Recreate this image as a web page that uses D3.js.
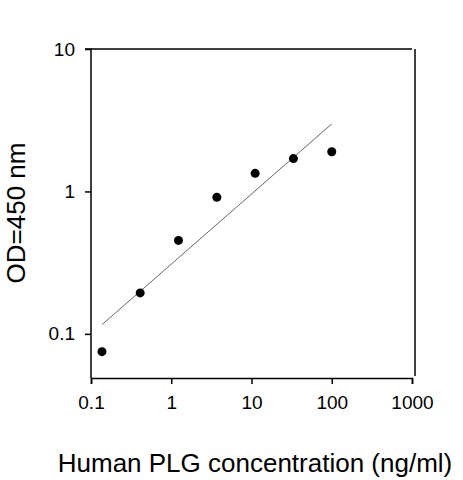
<!DOCTYPE html>
<html><head><meta charset="utf-8">
<script src="https://cdn.jsdelivr.net/npm/d3@7"></script>
<style>body{margin:0;background:#fff}text{font-family:"Liberation Sans",Arial,sans-serif}</style>
</head><body><svg id="c" width="463" height="480"></svg>
<script>
const concentrations=[0.137,0.41,1.23,3.7,11.1,33.3,100];
const odValues=[0.075,0.194,0.453,0.91,1.34,1.70,1.90];
const fitX=[0.137,100];
const fitY=[0.116,2.98];
const xTicks=[0.1,1,10,100,1000];
const yTicks=[0.1,1,10];
const svg=d3.select("#c");
const L=91,R=412,T=49,B=378;
const x=d3.scaleLog().domain([0.1,1000]).range([L,R]);
const y=d3.scaleLog().domain([0.049,10]).range([B,T]);
svg.append("g").attr("transform",`translate(0,${B})`)
 .call(d3.axisBottom(x).tickValues(xTicks).tickFormat(d=>String(d)).tickSize(6).tickPadding(12))
 .call(g=>{g.selectAll("text").attr("font-size",19).attr("fill","#000");g.selectAll("line,path").attr("stroke","#000").attr("stroke-width",1.5);});
svg.append("g").attr("transform",`translate(${L},0)`)
 .call(d3.axisLeft(y).tickValues(yTicks).tickFormat(d=>String(d)).tickSize(6).tickPadding(10))
 .call(g=>{g.selectAll("text").attr("font-size",19).attr("fill","#000");g.selectAll("line,path").attr("stroke","#000").attr("stroke-width",1.5);g.select(".domain").attr("d",`M-6,${T}H0V${B}`);});
svg.append("line").attr("x1",L).attr("x2",R).attr("y1",T).attr("y2",T).attr("stroke","#000").attr("stroke-width",1.5);
svg.append("line").attr("x1",415).attr("x2",415).attr("y1",T).attr("y2",B-2).attr("stroke","#000").attr("stroke-width",1.5);
svg.append("line").attr("x1",x(fitX[0])).attr("y1",y(fitY[0])).attr("x2",x(fitX[1])).attr("y2",y(fitY[1])).attr("stroke","#666").attr("stroke-width",1);
svg.selectAll("circle.p").data(concentrations).join("circle").attr("cx",d=>x(d)).attr("cy",(d,i)=>y(odValues[i])).attr("r",4.5).attr("fill","#000");
svg.append("text").attr("x",255).attr("y",472).attr("text-anchor","middle").attr("font-size",26).text("Human PLG concentration (ng/ml)");
svg.append("text").attr("transform","translate(25,213) rotate(-90)").attr("text-anchor","middle").attr("font-size",26).text("OD=450 nm");
</script></body></html>
